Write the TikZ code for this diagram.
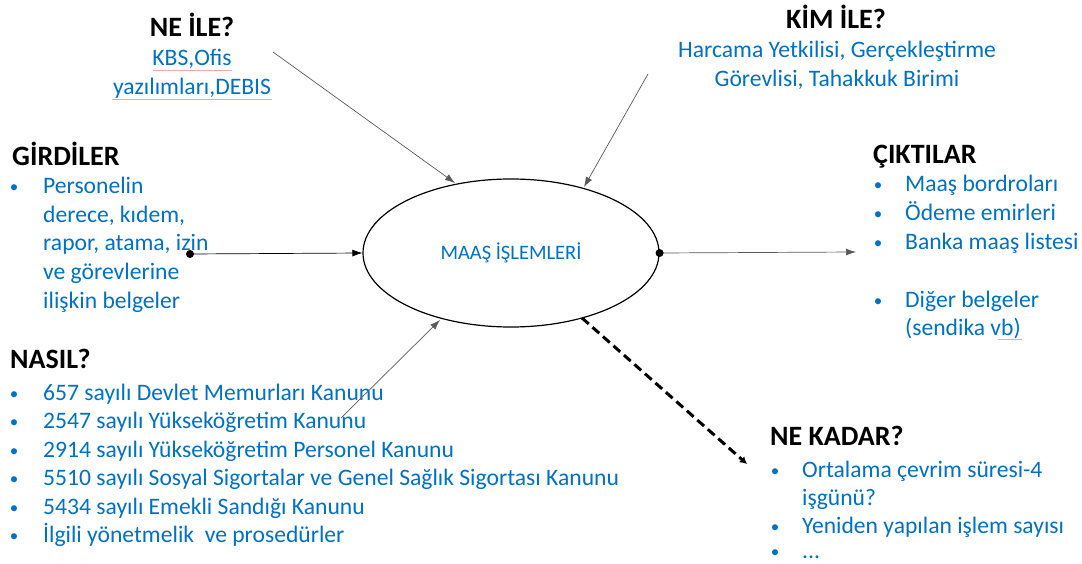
\documentclass[tikz,border=0pt]{standalone}
\usepackage{fontspec}
\setmainfont{Carlito}
\usetikzlibrary{shapes.geometric,arrows.meta}
\definecolor{tblue}{HTML}{0070C0}
\definecolor{spell}{HTML}{F2A7AE}
\begin{document}
\begin{tikzpicture}[x=1pt,y=-1pt,
  head/.style={anchor=base west,inner sep=0,font=\fontsize{28}{32}\selectfont\bfseries},
  headc/.style={anchor=base,inner sep=0,font=\fontsize{28}{32}\selectfont\bfseries},
  body/.style={anchor=base west,inner sep=0,text=tblue,font=\fontsize{23.6}{28}\selectfont},
  bodyc/.style={anchor=base,inner sep=0,text=tblue,font=\fontsize{23.6}{28}\selectfont},
  bul/.style={anchor=base,inner sep=0,text=tblue,font=\fontsize{17}{20}\selectfont},
  feed/.style={draw=black!65,line width=0.7pt,-{Latex[length=10pt,width=7pt]}},
  solidarr/.style={draw=black,line width=0.7pt,-{Latex[length=10pt,width=7pt]}},
  dasharr/.style={draw=black,line width=3pt,dash pattern=on 9pt off 5pt,-{Latex[length=7pt,width=8pt]}},
  spellmark/.style={draw=spell,line width=0.9pt},
  dotmark/.style={fill=black}
]
\useasboundingbox (0,0) rectangle (1082,564);

% central process
\node[ellipse,draw,line width=1.2pt,minimum width=296pt,minimum height=148pt,inner sep=0] (proc) at (511,253) {};
\node[bodyc,font=\fontsize{20.5}{24}\selectfont] (proct) at (511,260) {MAAŞ İŞLEMLERİ};

% NE ILE
\node[headc] (neile) at (192,37) {NE İLE?};
\node[bodyc] (neile1) at (192,66) {KBS,Ofis};
\node[bodyc] (neile2) at (192,95) {yazılımları,DEBIS};
\draw[spellmark] (153,70) -- (232,70);
\draw[spellmark] (112,99.5) -- (272,99.5);

% KIM ILE
\node[headc] (kimile) at (836,29) {KİM İLE?};
\node[bodyc] (kim1) at (837,58) {Harcama Yetkilisi, Gerçekleştirme};
\node[bodyc] (kim2) at (837,87) {Görevlisi, Tahakkuk Birimi};

% GIRDILER
\node[head] (girdi) at (12,166) {GİRDİLER};
\node[bul] (gb1) at (14,193) {•};
\foreach \t [count=\i] in {Personelin,{derece, kıdem,},{rapor, atama, izin},ve görevlerine,ilişkin belgeler}
  \node[body] (g\i) at (43,165.5+28.5*\i) {\t};

% CIKTILAR
\node[head] (cikti) at (873,164) {ÇIKTILAR};
\node[bul] (cb1) at (878,191) {•};
\node[bul] (cb2) at (878,220) {•};
\node[bul] (cb3) at (878,249) {•};
\node[bul] (cb4) at (878,306) {•};
\node[body] (c1) at (905,192) {Maaş bordroları};
\node[body] (c2) at (905,221) {Ödeme emirleri};
\node[body] (c3) at (905,250) {Banka maaş listesi};
\node[body] (c4) at (905,307) {Diğer belgeler};
\node[body] (c5) at (905,335) {(sendika vb)};
\draw[spellmark] (998,339) -- (1022,339);

% NASIL
\node[head] (nasil) at (10,368) {NASIL?};
\foreach \t [count=\i] in {657 sayılı Devlet Memurları Kanunu,2547 sayılı Yükseköğretim Kanunu,2914 sayılı Yükseköğretim Personel Kanunu,5510 sayılı Sosyal Sigortalar ve Genel Sağlık Sigortası Kanunu,5434 sayılı Emekli Sandığı Kanunu,İlgili yönetmelik\ \ ve prosedürler}{
  \node[bul] (nb\i) at (14,370.5+28.5*\i) {•};
  \node[body] (n\i) at (43,371.5+28.5*\i) {\t};
}

% NE KADAR
\node[head] (kadar) at (770,445) {NE KADAR?};
\node[bul] (kb1) at (775,476) {•};
\node[bul] (kb2) at (775,532) {•};
\node[bul] (kb3) at (775,557) {•};
\node[body] (k1) at (802,477) {Ortalama çevrim süresi-4};
\node[body] (k2) at (802,505) {işgünü?};
\node[body] (k3) at (802,533) {Yeniden yapılan işlem sayısı};
\node[body] (k4) at (802,558) {...};

% connectors
\coordinate (ne-s) at (273,52);
\coordinate (ne-e) at (455,183);
\draw[feed] (ne-s) -- (ne-e);
\coordinate (kim-s) at (648,74);
\coordinate (kim-e) at (584,187);
\draw[feed] (kim-s) -- (kim-e);
\coordinate (nas-s) at (341,418);
\coordinate (nas-e) at (440,320);
\draw[feed] (nas-s) -- (nas-e);
\coordinate (in-s) at (190,254);
\fill[dotmark] (in-s) circle (4pt);
\draw[solidarr] (in-s) -- (proc.west);
\coordinate (out-e) at (856,252);
\draw[feed] (proc.east) -- (out-e);
\fill[dotmark] (proc.east) circle (4pt);
\coordinate (dash-s) at (582,318);
\coordinate (dash-e) at (747,464);
\draw[dasharr] (dash-s) -- (dash-e);
\end{tikzpicture}
\end{document}
